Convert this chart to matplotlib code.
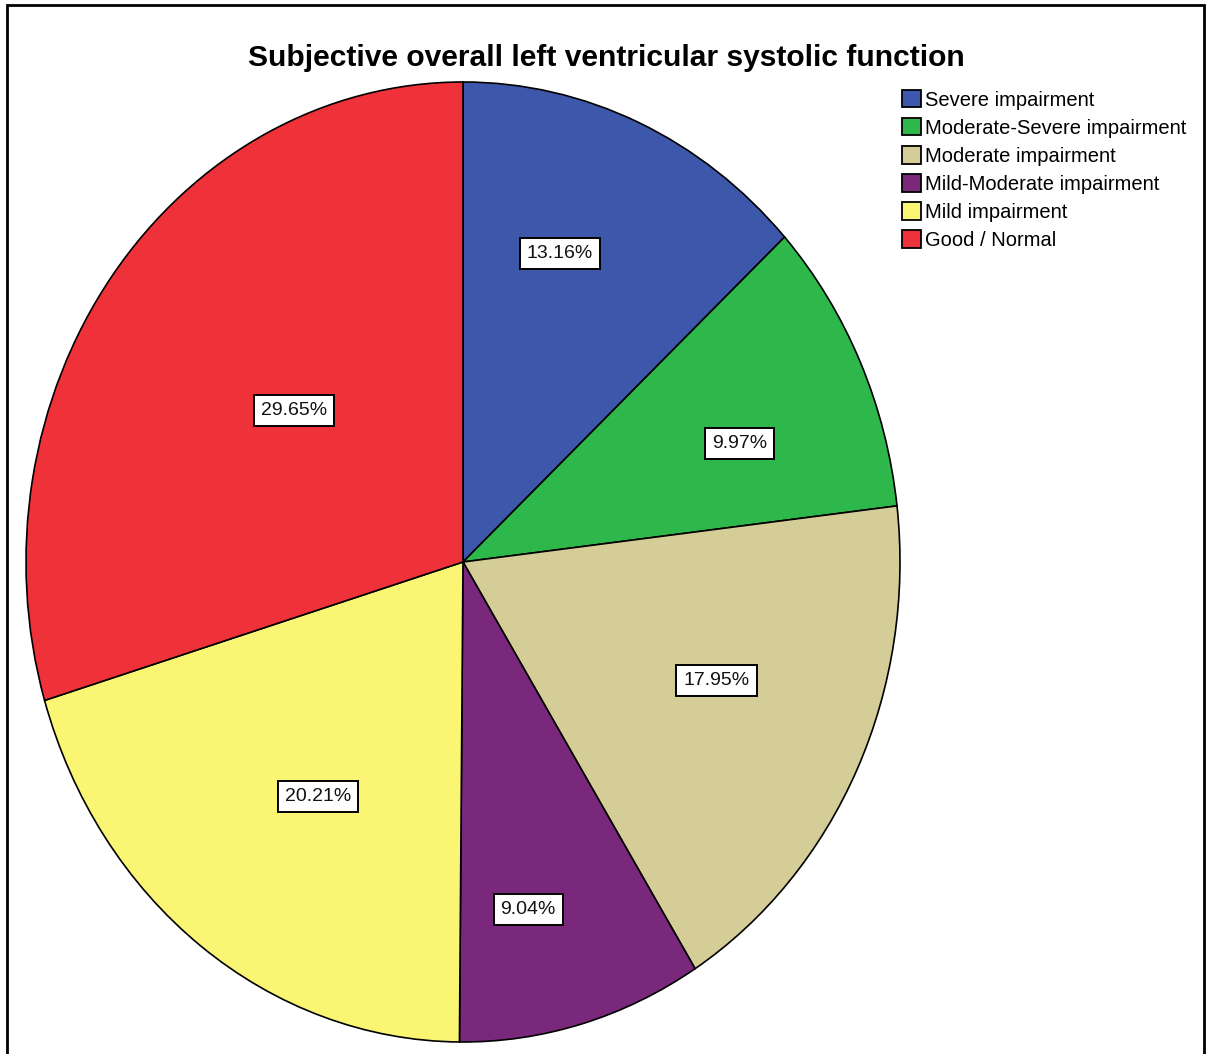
import matplotlib
matplotlib.use("Agg")
import matplotlib.pyplot as plt
import numpy as np
from matplotlib.patches import Rectangle, Patch

plt.rcParams['font.family'] = ['Liberation Sans', 'DejaVu Sans']

categories = ["Severe impairment", "Moderate-Severe impairment", "Moderate impairment",
              "Mild-Moderate impairment", "Mild impairment", "Good / Normal"]
percentages = [13.16, 9.97, 17.95, 9.04, 20.21, 29.65]
colors = ["#3d58aa", "#2eb84b", "#d4cd97", "#7a287c", "#fbf574", "#ef3239"]
title = "Subjective overall left ventricular systolic function"

# placement of each percentage box inside its wedge:
# distance from centre and angular nudge (degrees, clockwise) from the wedge bisector
label_radius = [0.68, 0.68, 0.63, 0.74, 0.59, 0.50]
label_nudge = [-4.7, 3.4, -2.6, 4.2, -2.6, 2.7]

W, H = 1208, 1054
fig = plt.figure(figsize=(W / 100, H / 100), dpi=100)

# pie occupies an elliptical region (stretched unit circle)
px0, px1, py0, py1 = 26, 900, 82, 1042
ax = fig.add_axes([px0 / W, 1 - py1 / H, (px1 - px0) / W, (py1 - py0) / H])
wedges, _ = ax.pie(percentages, colors=colors, startangle=90, counterclock=False,
                   wedgeprops=dict(edgecolor="black", linewidth=1.2), radius=1.0)
ax.set_xlim(-1, 1)
ax.set_ylim(-1, 1)
ax.set_aspect("auto")
ax.axis("off")

start = 0.0  # clockwise from 12 o'clock
for pct, r, nudge in zip(percentages, label_radius, label_nudge):
    span = pct / 100 * 360
    theta = np.deg2rad(start + span / 2 + nudge)
    start += span
    ax.text(r * np.sin(theta), r * np.cos(theta), f"{pct:.2f}%", ha="center", va="center",
            fontsize=14, color="#111111",
            bbox=dict(boxstyle="square,pad=0.36", facecolor="white", edgecolor="black", linewidth=1.4))

fig.text(606 / W, 1 - 58 / H, title, ha="center", va="center", fontsize=21.6, fontweight="bold")

handles = [Patch(facecolor=c, edgecolor="black", linewidth=1.3) for c in colors]
fig.legend(handles, categories, loc="upper left", bbox_to_anchor=(902 / W, 1 - 90 / H),
           frameon=False, fontsize=14.5, handlelength=0.95, handleheight=0.95,
           handletextpad=0.2, labelspacing=0.42, borderpad=0, borderaxespad=0)

# outer frame, open at the bottom edge
fig.patches.append(Rectangle((7 / W, -0.05), (1204 - 7) / W, 1 - 5 / H + 0.05,
                             transform=fig.transFigure, fill=False, edgecolor="black",
                             linewidth=2))

fig.savefig("out.png", dpi=100)
